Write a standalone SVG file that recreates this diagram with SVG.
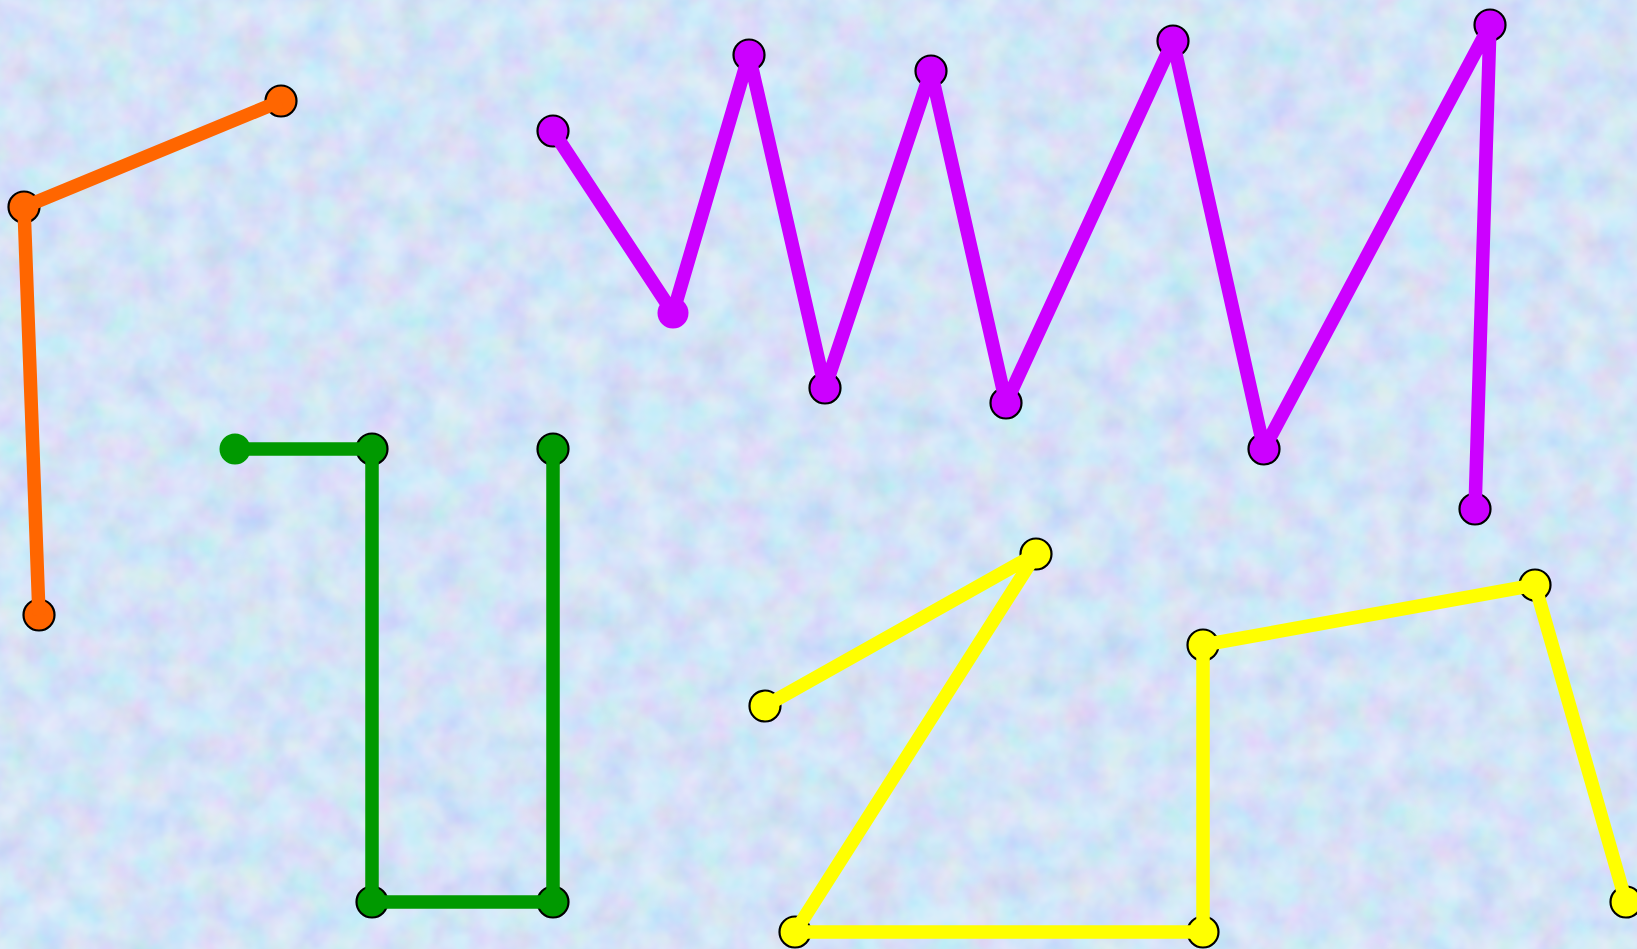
<svg xmlns="http://www.w3.org/2000/svg" width="1637" height="949" viewBox="0 0 1637 949">
<defs>
<filter id="tex" x="0" y="0" width="100%" height="100%">
<feTurbulence type="fractalNoise" baseFrequency="0.03" numOctaves="3" seed="7"/>
<feColorMatrix type="matrix" values="0.8 0 0 0 0.35  0 0.7 0 0 0.5  0 0 0.5 0 0.7  0 0 0 0 0.5"/>
</filter>
</defs>
<style>
.n circle{stroke:#000;stroke-width:2.2}
.n .no{stroke:none}
.o{fill:#ff6600}.m{fill:#cc00ff}.g{fill:#009900}.y{fill:#ffff00}
#connectors polyline{fill:none;stroke-width:13.5;stroke-linejoin:round;stroke-linecap:butt}
</style>
<rect width="1637" height="949" fill="#c6daf5"/>
<rect width="1637" height="949" filter="url(#tex)"/>
<g class="n">
<g id="o1"><circle class="o" cx="281" cy="101" r="15.5"/></g>
<g id="o2"><circle class="o" cx="24" cy="207" r="15.5"/></g>
<g id="o3"><circle class="o" cx="39" cy="615" r="15.5"/></g>
<g id="m1"><circle class="m" cx="553" cy="131" r="15.5"/></g>
<g id="m2"><circle class="m no" cx="673" cy="313" r="15.5"/></g>
<g id="m3"><circle class="m" cx="749" cy="55" r="15.5"/></g>
<g id="m4"><circle class="m" cx="825" cy="388" r="15.5"/></g>
<g id="m5"><circle class="m" cx="931" cy="71" r="15.5"/></g>
<g id="m6"><circle class="m" cx="1006" cy="403" r="15.5"/></g>
<g id="m7"><circle class="m" cx="1173" cy="41" r="15.5"/></g>
<g id="m8"><circle class="m" cx="1264" cy="449" r="15.5"/></g>
<g id="m9"><circle class="m" cx="1490" cy="25" r="15.5"/></g>
<g id="m10"><circle class="m" cx="1475" cy="509" r="15.5"/></g>
<g id="g1"><circle class="g no" cx="235" cy="449" r="15.5"/></g>
<g id="g2"><circle class="g" cx="372" cy="449" r="15.5"/></g>
<g id="g3"><circle class="g" cx="553" cy="449" r="15.5"/></g>
<g id="g4"><circle class="g" cx="372" cy="902" r="15.5"/></g>
<g id="g5"><circle class="g" cx="553" cy="902" r="15.5"/></g>
<g id="y1"><circle class="y" cx="765" cy="706" r="15.5"/></g>
<g id="y2"><circle class="y" cx="1036" cy="554" r="15.5"/></g>
<g id="y3"><circle class="y" cx="795" cy="932" r="15.5"/></g>
<g id="y4"><circle class="y" cx="1203" cy="932" r="15.5"/></g>
<g id="y5"><circle class="y" cx="1203" cy="645" r="15.5"/></g>
<g id="y6"><circle class="y" cx="1535" cy="585" r="15.5"/></g>
<g id="y7"><circle class="y" cx="1626" cy="902" r="15.5"/></g>
</g>
<g id="connectors">
<polyline stroke="#ff6600" points="281,101 24,207 39,615"/>
<polyline stroke="#cc00ff" points="553,131 673,313 749,55 825,388 931,71 1006,403 1173,41 1264,449 1490,25 1475,509"/>
<polyline stroke="#009900" points="235,449 372,449 372,902 553,902 553,449"/>
<polyline stroke="#ffff00" points="765,706 1036,554 795,932 1203,932 1203,645 1535,585 1626,902"/>
</g>
</svg>
